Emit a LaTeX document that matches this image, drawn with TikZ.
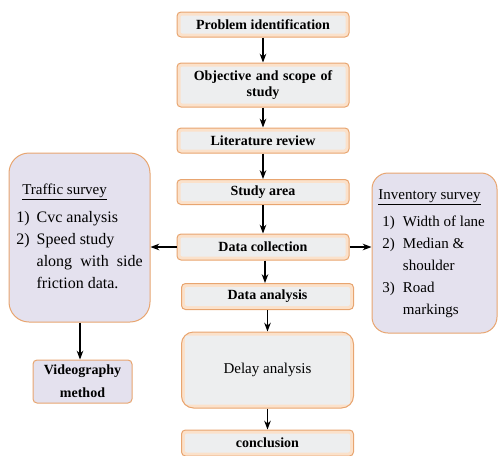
\documentclass[tikz,border=0pt]{standalone}
\usepackage{fontspec}
\setmainfont{Liberation Serif}
\usetikzlibrary{arrows.meta}

\definecolor{boxedge}{HTML}{E8A570}
\definecolor{boxglow}{HTML}{FBE1CA}
\definecolor{boxinner}{HTML}{EDEEEF}
\definecolor{sidefill}{HTML}{E4E1EE}

\begin{document}
\begin{tikzpicture}[
    x=1pt, y=-1pt,
    >=Stealth,
    stepbox/.style={draw=boxedge, line width=1pt, fill=boxglow,
        rounded corners=4pt, minimum width=172pt, inner sep=2pt,
        align=center, font=\fontsize{14}{16}\selectfont\bfseries,
        path picture={\fill[boxinner, rounded corners=2pt]
            ([shift={(3.5pt,-3.5pt)}]path picture bounding box.north west) rectangle
            ([shift={(-3.5pt,3.5pt)}]path picture bounding box.south east);}},
    sidebox/.style={draw=boxedge, line width=1pt, fill=sidefill,
        rounded corners=16pt, align=left, inner sep=0pt,
        font=\fontsize{15}{22}\selectfont},
    flow/.style={->, line width=1.3pt}
]
\useasboundingbox (0,0) rectangle (499,456);

% Main steps
\node[stepbox, minimum height=25pt] (problem) at (263,24.5) {Problem identification};
\node[stepbox, minimum height=44pt, text width=160pt] (objective) at (263,85)
    {Objective and scope of\\ study};
\node[stepbox, minimum height=25pt] (literature) at (263,140.5) {Literature review};
\node[stepbox, minimum height=25pt] (studyarea) at (263,192) {Study area};
\node[stepbox, minimum height=26pt] (collection) at (263,247) {Data collection};
\node[stepbox, minimum height=26pt] (analysis) at (267.5,296.5) {Data analysis};
\node[stepbox, minimum height=76pt, rounded corners=12pt,
    font=\fontsize{15}{18}\selectfont] (delay) at (267.5,370) {Delay analysis};
\node[stepbox, minimum height=26pt] (conclusion) at (267.5,443) {conclusion};

% Surveys
\node[sidebox, minimum width=141pt, minimum height=169pt, rounded corners=20pt,
    font=\fontsize{16}{22}\selectfont] (traffic) at (79.5,237.5) {%
    \begin{tabular}{@{}l@{\hspace{7pt}}l@{}}
    \multicolumn{2}{@{}l}{\hspace*{6pt}\fontsize{15}{22}\selectfont\underline{Traffic survey}}\\[6pt]
    1) & Cvc analysis\\
    2) & Speed study\\
       & \makebox[106pt][s]{along with side}\\
       & friction data.
    \end{tabular}};
\node[sidebox, minimum width=125pt, minimum height=160pt] (inventory) at (434.5,253) {%
    \begin{tabular}{@{}l@{\hspace{8pt}}l@{}}
    \multicolumn{2}{@{}l}{\hspace*{-4pt}\underline{Inventory survey}}\\[5pt]
    1) & Width of lane\\
    2) & Median \&\\
       & shoulder\\
    3) & Road\\
       & markings
    \end{tabular}};
\node[sidebox, rounded corners=4pt, minimum width=99pt, minimum height=43pt,
    align=center, font=\fontsize{14}{23}\selectfont\bfseries] (video) at (82.5,381.5)
    {Videography\\ method};

% Arrows
\draw[flow] (problem) -- (objective);
\draw[flow] (objective) -- (literature);
\draw[flow] (literature) -- (studyarea);
\draw[flow] (studyarea) -- (collection);
\draw[flow] (collection.south -| 265,0) -- (analysis.north -| 265,0);
\draw[flow] (analysis) -- (delay);
\draw[flow] (delay) -- (conclusion);
\draw[flow] (collection.west) -- (collection.west -| traffic.east);
\draw[flow] (collection.east) -- (collection.east -| inventory.west);
\draw[flow] (traffic.south -| 80,0) -- (video.north -| 80,0);
\end{tikzpicture}
\end{document}
